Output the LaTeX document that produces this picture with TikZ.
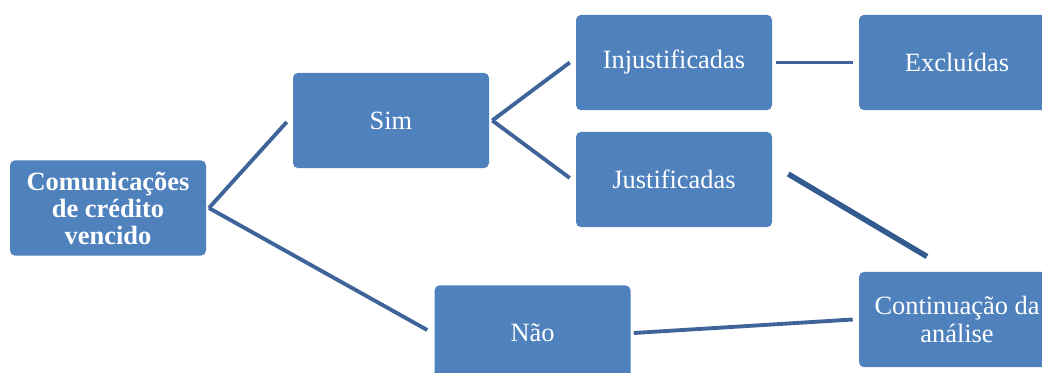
\documentclass[tikz,border=0pt]{standalone}
\usepackage{fontspec}
\setmainfont{Liberation Serif}
\definecolor{boxblue}{RGB}{79,129,189}
\definecolor{lineblue}{RGB}{62,100,154}
\definecolor{darkline}{RGB}{50,92,143}
\tikzset{
  box/.style={fill=boxblue, rounded corners=3.8pt, inner sep=0pt,
    minimum width=147pt, minimum height=71.5pt, align=center,
    text=white, font=\fontsize{19.8}{20.6}\selectfont},
  link/.style={draw=lineblue, line width=2.9pt},
  thicklink/.style={draw=darkline, line width=4.1pt}
}
\begin{document}
\begin{tikzpicture}[x=0.75pt, y=-0.75pt]
      \clip (0,0) rectangle (1042,372);
      \useasboundingbox (0,0) rectangle (1042,372);
      %
      \node[box, font=\fontsize{19.8}{20.3}\selectfont\bfseries] (com) at (108,208) {Comunica\c{c}\~oes\\de cr\'edito\\vencido};
      \node[box] (sim) at (391,120.5) {Sim};
      \node[box] (inj) at (674,62.5) {Injustificadas};
      \node[box] (exc) at (957,62.5) {Exclu\'idas};
      \node[box] (jus) at (674,179.5) {Justificadas};
      \node[box] (nao) at (532.5,333) {N\~ao};
      \node[box] (cont) at (957,319.5) {Continua\c{c}\~ao da\\an\'alise};
      %
      \draw[link] ([xshift=2pt]com.east) -- ([shift={(-6,1.5)}]sim.west);
      \draw[link] ([xshift=2pt]com.east) -- ([shift={(-7,-3)}]nao.west);
      \draw[link] ([xshift=2.25pt]sim.east) -- ([xshift=-4.5pt]inj.west);
      \draw[link] ([xshift=2.25pt]sim.east) -- ([shift={(-6,-1.5)}]jus.west);
      \draw[link] ([xshift=3pt]inj.east) -- ([xshift=-4.5pt]exc.west);
      \draw[thicklink] ([shift={(16,-5.5)}]jus.east) -- ([shift={(-30,-15)}]cont.north);
      \draw[link] ([xshift=2.25pt]nao.east) -- ([xshift=-4.5pt]cont.west);
      %
    \end{tikzpicture}
\end{document}
